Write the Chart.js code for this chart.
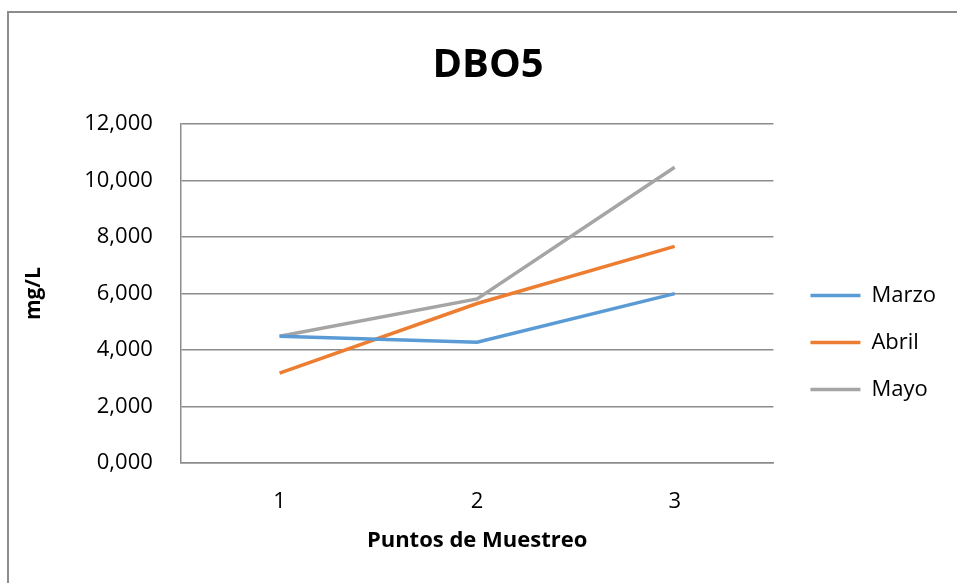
<!DOCTYPE html>
<html>
<head>
<meta charset="utf-8">
<script src="https://cdn.jsdelivr.net/npm/chart.js@4/dist/chart.umd.min.js"></script>
<style>
  html, body { margin: 0; padding: 0; background: #fff; }
  #caja { width: 957px; height: 583px; }
</style>
</head>
<body>
<div id="caja"><canvas id="grafico-dbo5" width="957" height="583"></canvas></div>
<script>
const puntos = ['1', '2', '3'];
const meses = ['Marzo', 'Abril', 'Mayo'];
const valoresMarzo = [4.49, 4.28, 6.00];
const valoresAbril = [3.19, 5.65, 7.67];
const valoresMayo = [4.49, 5.81, 10.47];
const colores = ['#5B9BD5', '#ED7D31', '#A5A5A5'];
const ticksY = [0, 2, 4, 6, 8, 10, 12];

const fuente = '"Open Sans", "Liberation Sans", sans-serif';
const gris = '#8c8c8c';

// marco gris alrededor del grafico (como el de la hoja de calculo)
const marco = {
  id: 'marco',
  beforeDraw(chart) {
    const ctx = chart.ctx;
    ctx.save();
    ctx.fillStyle = '#fff';
    ctx.fillRect(0, 0, chart.width, chart.height);
    ctx.strokeStyle = gris;
    ctx.lineWidth = 2;
    ctx.strokeRect(8, 12, chart.width + 20, chart.height + 20);
    ctx.restore();
  }
};

// corre la leyenda (derecha y abajo) y el titulo (derecha)
const acomodar = {
  id: 'acomodar',
  afterLayout(chart) {
    const l = chart.legend;
    if (l) {
      l.left += 12; l.right += 12;
      l.top += 40; l.bottom += 40;
    }
    const t = chart.titleBlock;
    if (t) {
      t.left += 14; t.right += 14;
    }
  }
};

const series = [valoresMarzo, valoresAbril, valoresMayo];

new Chart(document.getElementById('grafico-dbo5'), {
  type: 'line',
  data: {
    labels: puntos,
    datasets: meses.map((mes, i) => ({
      label: mes,
      data: series[i],
      borderColor: colores[i],
      backgroundColor: colores[i],
      borderWidth: 3.5,
      pointRadius: 0,
      pointStyle: 'line',
      tension: 0
    }))
  },
  options: {
    responsive: false,
    animation: false,
    layout: { padding: { top: 42, left: 14, right: 23, bottom: 20 } },
    plugins: {
      title: {
        display: true,
        text: 'DBO5',
        color: '#000',
        font: { family: fuente, size: 40, weight: 'bold' },
        padding: { top: 0, bottom: 34 }
      },
      legend: {
        position: 'right',
        labels: {
          usePointStyle: true,
          pointStyle: 'line',
          pointStyleWidth: 50,
          padding: 25,
          color: '#000',
          font: { family: fuente, size: 22 }
        }
      },
      tooltip: { enabled: false }
    },
    scales: {
      x: {
        offset: true,
        grid: { display: true, drawOnChartArea: false, drawTicks: true, tickLength: 25, tickColor: 'rgba(0,0,0,0)' },
        border: { display: true, color: gris, width: 1.5 },
        ticks: { color: '#000', padding: 0, font: { family: fuente, size: 22 } },
        title: {
          display: true,
          text: 'Puntos de Muestreo',
          color: '#000',
          font: { family: fuente, size: 22, weight: 'bold' },
          padding: { top: 13, bottom: 9 }
        }
      },
      y: {
        min: 0,
        max: 12,
        afterBuildTicks(scale) {
          scale.ticks = ticksY.map(v => ({ value: v }));
        },
        grid: { color: gris, lineWidth: 1.5, drawTicks: true, tickLength: 28, tickColor: 'rgba(0,0,0,0)' },
        border: { display: true, color: gris, width: 1.5 },
        ticks: {
          color: '#000',
          padding: 0,
          font: { family: fuente, size: 22 },
          callback: v => v.toFixed(3).replace('.', ',')
        },
        title: {
          display: true,
          text: 'mg/L',
          color: '#000',
          font: { family: fuente, size: 21, weight: 'bold' },
          padding: { top: 7, bottom: 38 }
        }
      }
    }
  },
  plugins: [marco, acomodar]
});
</script>
</body>
</html>
